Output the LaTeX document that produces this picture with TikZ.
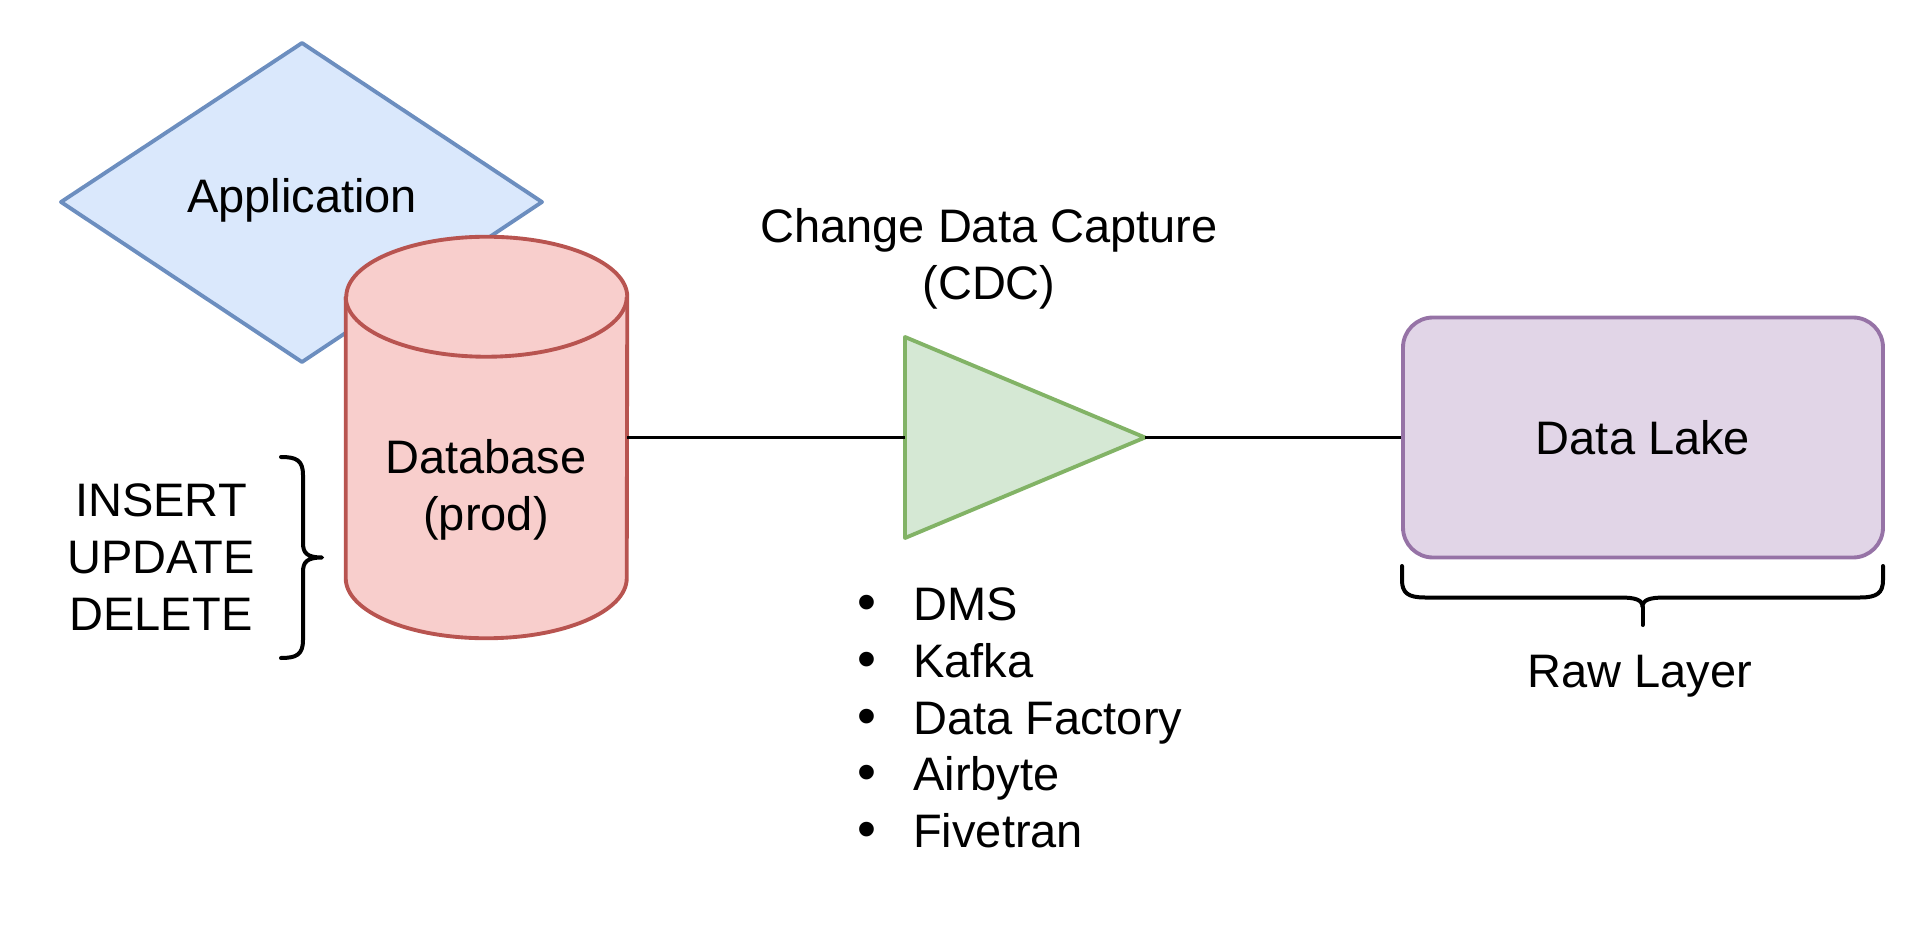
\documentclass[tikz,border=0pt]{standalone}
\usepackage{fontspec}
\setmainfont{Liberation Sans}
\definecolor{appfill}{HTML}{DAE8FC}\definecolor{appline}{HTML}{6C8EBF}
\definecolor{dbfill}{HTML}{F8CECC}\definecolor{dbline}{HTML}{B85450}
\definecolor{cdcfill}{HTML}{D5E8D4}\definecolor{cdcline}{HTML}{82B366}
\definecolor{lakefill}{HTML}{E1D5E7}\definecolor{lakeline}{HTML}{9673A6}
\newcommand{\bul}{\makebox[42pt][l]{\scalebox{1.15}{\textbullet}}}
\begin{document}
\begin{tikzpicture}[x=0.75pt,y=-0.75pt,
  every node/.style={font=\fontsize{35.25}{42.5}\selectfont, inner sep=0pt},
  shapeline/.style={line width=2.9pt, line join=round},
  link/.style={line width=2.9pt, black},
  bracestyle/.style={line width=3pt, black, line cap=round, line join=round},
]
\useasboundingbox (0,0) rectangle (1924,952);
% application diamond
\filldraw[shapeline, draw=appline, fill=appfill] (61,202) -- (302,43) -- (542,202) -- (302,362) -- cycle;
\node (app) at (302,200) {Application};
% database cylinder
\node[minimum width=210.75pt, minimum height=300.75pt] (db) at (486.5,437.5) {};
\filldraw[shapeline, draw=dbline, fill=dbfill]
  ([yshift=-45pt]db.north west) -- ([yshift=45pt]db.south west)
  arc[start angle=180, end angle=360, x radius=105.375pt, y radius=45pt]
  -- ([yshift=-45pt]db.north east)
  arc[start angle=0, end angle=180, x radius=105.375pt, y radius=45pt] -- cycle;
\draw[shapeline, draw=dbline] ([yshift=-45pt]db.north west)
  arc[start angle=180, end angle=360, x radius=105.375pt, y radius=45pt];
\node[align=center] (dblabel) at (486,490) {Database\\(prod)};
% CDC triangle
\coordinate (cdcin) at (905,437.5);
\coordinate (cdctip) at (1145,437.5);
\filldraw[shapeline, draw=cdcline, fill=cdcfill] (905,337) -- (cdctip) -- (905,538) -- cycle;
\node[align=center] (cdclabel) at (989,259) {Change Data Capture\\(CDC)};
% data lake
\node[shapeline, draw=lakeline, fill=lakefill, rounded corners=22.5pt,
      minimum width=360pt, minimum height=180pt] (lake) at (1643,437.5) {Data Lake};
% links
\draw[link] (db.east) -- (cdcin);
\draw[link] (cdctip) -- (lake.west);
% left brace
\coordinate (opstop) at (281,457);
\coordinate (opstip) at (322,557.5);
\coordinate (opsbot) at (281,658);
\draw[bracestyle] (opstop) .. controls (296,457) and (303,460) .. (303,475) -- (303,543)
  .. controls (303,553) and (307,557.5) .. (opstip)
  .. controls (307,557.5) and (303,562) .. (303,572) -- (303,640)
  .. controls (303,655) and (296,658) .. (opsbot);
\node[align=center] (ops) at (161,557) {INSERT\\UPDATE\\DELETE};
% bottom brace
\coordinate (rawl) at (1402,566);
\coordinate (rawr) at (1883,566);
\coordinate (rawmid) at (1642.5,607);
\coordinate (rawtip) at (1642.5,625);
\draw[bracestyle] (rawl) -- (1402,580) .. controls (1402,593) and (1408,597.5) .. (1425,597.5)
  -- (1620,597.5) .. controls (1636,597.5) and (1642.5,600) .. (rawmid)
  .. controls (1642.5,600) and (1649,597.5) .. (1665,597.5)
  -- (1860,597.5) .. controls (1877,597.5) and (1883,593) .. (1883,580) -- (rawr);
\draw[bracestyle] (rawmid) -- (rawtip);
\node (raw) at (1640,676) {Raw Layer};
% tools list
\node[align=left, anchor=west] (tools) at (857,718)
  {\bul DMS\\\bul Kafka\\\bul Data Factory\\\bul Airbyte\\\bul Fivetran};
\end{tikzpicture}
\end{document}
